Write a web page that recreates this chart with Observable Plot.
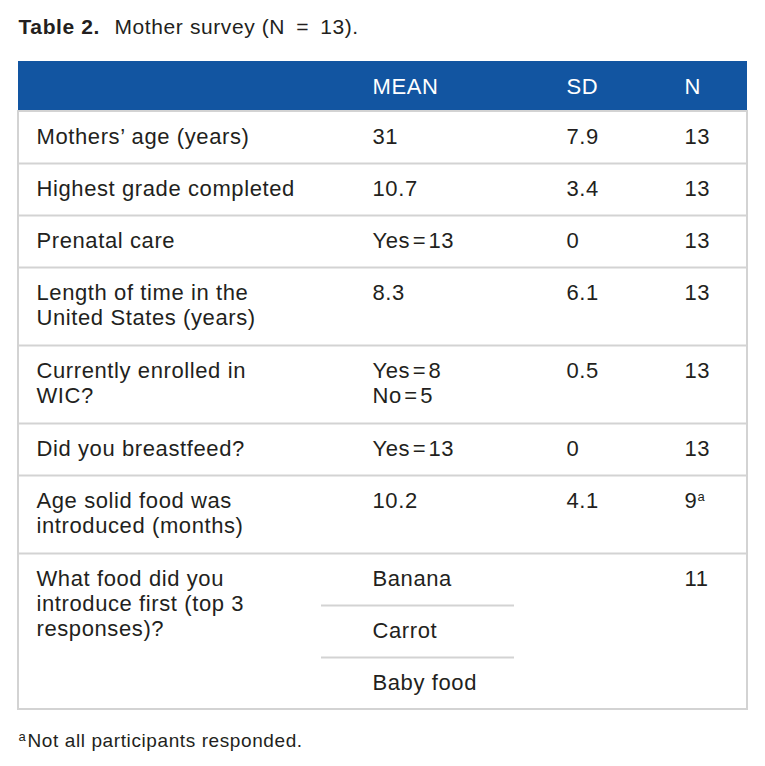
<!DOCTYPE html>
<html>
<head>
<meta charset="utf-8">
<script src="https://cdn.jsdelivr.net/npm/d3@7"></script>
<script src="https://cdn.jsdelivr.net/npm/@observablehq/plot@0.6"></script>
<style>
  html, body { margin: 0; padding: 0; background: #fff; }
  svg text { letter-spacing: 0.6px; }
</style>
</head>
<body>
<div id="chart"></div>
<script>
// ---- Data ----
const titleBold = "Table 2.";
const titleRest = "Mother survey (N\u2002=\u200213).";
const headers = ["", "MEAN", "SD", "N"];
const labels = [
  "Mothers’ age (years)",
  "Highest grade completed",
  "Prenatal care",
  "Length of time in the\nUnited States (years)",
  "Currently enrolled in\nWIC?",
  "Did you breastfeed?",
  "Age solid food was\nintroduced (months)",
  "What food did you\nintroduce first (top 3\nresponses)?"
];
const means = ["31", "10.7", "Yes\u200a=\u200a13", "8.3", "Yes\u200a=\u200a8\nNo\u200a=\u200a5", "Yes\u200a=\u200a13", "10.2", ""];
const sds = ["7.9", "3.4", "0", "6.1", "0.5", "0", "4.1", ""];
const ns = ["13", "13", "13", "13", "13", "13", "9", "11"];
const nMarks = ["", "", "", "", "", "", "a", ""];
const foods = ["Banana", "Carrot", "Baby food"];
const foodRow = 7;
const footnoteMark = "a";
const footnote = "Not all participants responded.";

// ---- Layout ----
const W = 765, H = 766;
const left = 18, right = 747;
const headerTop = 61, headerH = 50;
const unitH = 52, extraLineH = 26;
const colX = [36, 372, 566, 684];
const subLineX1 = 321, subLineX2 = 514;
const fontSize = 22;
const textColor = "#231f20";
const borderColor = "#d3d3d3";
const headerColor = "#1255a1";

const nLines = s => s.split("\n").length;
const rows = [];
let yy = headerTop + headerH;
labels.forEach((lab, i) => {
  const lines = Math.max(nLines(lab), nLines(means[i]));
  const h = i === foodRow ? unitH * foods.length : unitH + extraLineH * (lines - 1);
  rows.push({i, top: yy, bottom: yy + h, label: lab, mean: means[i], sd: sds[i], n: ns[i], mark: nMarks[i]});
  yy += h;
});
const tableBottom = yy;
const foodCells = foods.map((f, k) => ({f, top: rows[foodRow].top + k * unitH}));
const subLines = foodCells.slice(1).map(d => d.top);
const firstLineDy = 15;

const cells = [];
rows.forEach(r => {
  [r.label, r.mean, r.sd, r.n].forEach((t, c) => { if (t) cells.push({x: colX[c], y: r.top + firstLineDy, t}); });
});
foodCells.forEach(d => cells.push({x: colX[1], y: d.top + firstLineDy, t: d.f}));
const sups = rows.filter(r => r.mark).map(r => ({x: colX[3] + 13, y: r.top + firstLineDy + 1, t: r.mark}));
const headerCells = headers.map((h, c) => ({x: colX[c], y: headerTop + headerH / 2, t: h})).filter(d => d.t);

const chart = Plot.plot({
  width: W, height: H,
  margin: 0,
  x: {type: "linear", domain: [0, W], range: [0, W], axis: null},
  y: {type: "linear", domain: [0, H], range: [0, H], axis: null},
  style: {fontFamily: "'Liberation Sans', Arial, Helvetica, sans-serif", background: "#fff"},
  marks: [
    // header band
    Plot.rect([{x1: left, x2: right, y1: headerTop, y2: headerTop + headerH}], {x1: "x1", x2: "x2", y1: "y1", y2: "y2", fill: headerColor}),
    // row separators
    Plot.ruleY(rows.slice(0, -1).map(r => r.bottom), {x1: left, x2: right, stroke: borderColor, strokeWidth: 2}),
    // sub-lines in the food row
    Plot.ruleY(subLines, {x1: subLineX1, x2: subLineX2, stroke: borderColor, strokeWidth: 2}),
    // outer frame of the body
    Plot.rect([{x1: left, x2: right, y1: headerTop + headerH, y2: tableBottom}], {x1: "x1", x2: "x2", y1: "y1", y2: "y2", fill: "none", stroke: borderColor, strokeWidth: 2}),
    // header text
    Plot.text(headerCells, {x: "x", y: "y", text: "t", fill: "white", fontSize, textAnchor: "start"}),
    // body text
    Plot.text(cells, {x: "x", y: "y", text: "t", fill: textColor, fontSize, textAnchor: "start", lineAnchor: "top", lineHeight: 25 / fontSize}),
    Plot.text(sups, {x: "x", y: "y", text: "t", fill: textColor, fontSize: 13, textAnchor: "start", lineAnchor: "top"}),
    // title
    Plot.text([titleBold], {x: left, y: 27, text: d => d, fill: textColor, fontSize: 21, fontWeight: "bold", textAnchor: "start"}),
    Plot.text([titleRest], {x: 114, y: 27, text: d => d, fill: textColor, fontSize: 21, textAnchor: "start"}),
    // footnote
    Plot.text([footnoteMark], {x: left, y: 736, text: d => d, fill: textColor, fontSize: 13, textAnchor: "start"}),
    Plot.text([footnote], {x: 27, y: 740, text: d => d, fill: textColor, fontSize: 19, textAnchor: "start"})
  ]
});
document.getElementById("chart").appendChild(chart);
</script>
</body>
</html>
